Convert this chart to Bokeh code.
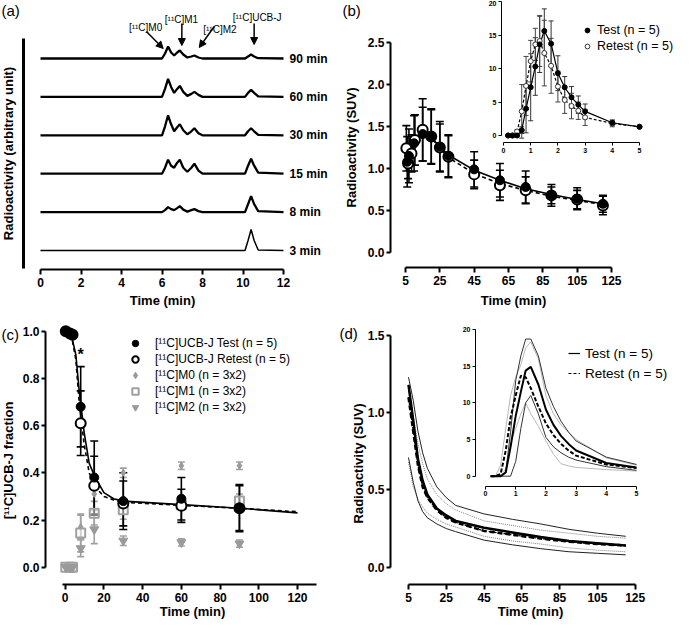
import math
from bokeh.plotting import figure
from bokeh.models import (Range1d, LinearAxis, FixedTicker, Whisker, TeeHead, ColumnDataSource,
                          Label, Arrow, NormalHead, Legend, LegendItem, NumeralTickFormatter)
from bokeh.layouts import column, row
from bokeh.embed import file_html
from bokeh.resources import INLINE
from bokeh.core.properties import value

FONT = "Liberation Sans"

# ---------------- Panel (a): radio-HPLC chromatograms ----------------
hplc_time = [0, 6.0, 6.15, 6.3, 6.45, 6.6, 6.75, 6.88, 7.05, 7.25, 7.45, 7.6, 7.8, 8.0,
             10.1, 10.25, 10.4, 10.55, 10.75, 12]
hplc_labels = ["3 min", "8 min", "15 min", "30 min", "60 min", "90 min"]
hplc_3min = [0, 0, 0, 0, 0, 0, 0, 0, 0, 0, 0, 0, 0, 0, 0, 10, 21, 10, 0.5, 0]
hplc_8min = [0, 0, 2, 5, 3, 2, 4, 6, 2.5, 0.5, 2, 3, 1, 0, 0, 8, 16, 8, 1, 0]
hplc_15min = [0, 0, 6, 14, 8, 6, 11, 14, 6, 2, 6, 10, 3, 0, 0, 8, 15, 8, 1, 0]
hplc_30min = [0, 0, 9, 20, 11, 4, 8, 11, 5, 1, 4, 7, 2, 0, 0, 4, 7, 4, 0.5, 0]
hplc_60min = [0, 0, 8, 18, 10, 4, 8, 11, 5, 1, 3, 5, 2, 0, 0, 4, 7, 4, 0.5, 0]
hplc_90min = [0, 0, 5, 12, 6, 3, 6, 8, 4, 1, 2, 3, 1, 0, 0, 2, 4, 2, 0.3, 0]
hplc_traces = [hplc_3min, hplc_8min, hplc_15min, hplc_30min, hplc_60min, hplc_90min]

# ---------------- Panel (b): plasma SUV ----------------
b_test_time = [6, 7, 10, 15, 20, 25, 30, 45, 60, 75, 90, 105, 120]
b_test = [1.08, 1.15, 1.30, 1.41, 1.38, 1.26, 1.15, 0.99, 0.86, 0.78, 0.68, 0.64, 0.58]
b_test_sd = [0.30, 0.32, 0.33, 0.32, 0.33, 0.30, 0.25, 0.21, 0.20, 0.19, 0.13, 0.13, 0.10]
b_retest_time = [5.5, 6.5, 8.5, 10.5, 15, 20, 25, 30, 45, 60, 75, 90, 105, 120]
b_retest = [1.24, 1.06, 1.18, 1.34, 1.46, 1.38, 1.25, 1.14, 0.93, 0.80, 0.74, 0.68, 0.63, 0.56]
b_retest_sd = [0.27, 0.18, 0.22, 0.30, 0.37, 0.32, 0.28, 0.25, 0.17, 0.18, 0.16, 0.10, 0.11, 0.11]
bfit_time = [5, 7.5, 10, 15, 20, 25, 30, 45, 60, 75, 90, 105, 120]
bfit_test = [1.10, 1.22, 1.32, 1.40, 1.37, 1.26, 1.16, 0.98, 0.86, 0.76, 0.69, 0.63, 0.58]
bfit_retest = [1.14, 1.26, 1.35, 1.42, 1.37, 1.24, 1.13, 0.94, 0.82, 0.74, 0.67, 0.62, 0.57]

inset_time = [0.17, 0.33, 0.5, 0.67, 0.83, 1.0, 1.17, 1.33, 1.5, 1.75, 2.0, 2.25, 2.5, 2.75, 3.0, 4.0, 5.0]
bi_test = [0, 0, 0, 0.8, 4.0, 7.2, 10.3, 13.6, 15.6, 13.7, 9.3, 7.2, 5.7, 4.6, 3.6, 1.9, 1.3]
bi_test_sd = [0, 0, 0, 0.5, 3.6, 5.0, 4.3, 4.2, 3.3, 3.4, 2.6, 1.6, 1.6, 1.3, 1.1, 0.4, 0.2]
bi_retest = [0, 0, 0.6, 3.6, 7.4, 11.1, 13.6, 14.1, 12.3, 10.4, 7.3, 5.3, 4.4, 3.7, 2.7, 1.8, 1.3]
bi_retest_sd = [0, 0, 0.3, 4.0, 4.4, 3.1, 2.4, 3.8, 4.9, 4.1, 2.3, 2.0, 1.9, 1.3, 1.2, 0.5, 0.2]

# ---------------- Panel (c): parent fraction ----------------
c_time = [0.3, 2.5, 3.8, 8, 15, 30, 60, 90]
c_test = [1.0, 0.99, 0.985, 0.68, 0.38, 0.28, 0.29, 0.25]
c_test_sd = [0, 0, 0, 0.17, 0.155, 0.12, 0.09, 0.10]
c_retest = [1.0, 0.99, 0.985, 0.61, 0.345, 0.27, 0.26, 0.25]
c_retest_sd = [0, 0, 0, 0.137, 0.125, 0.095, 0.07, 0.095]
c_m0 = [0, 0, 0, 0.17, 0.31, 0.40, 0.43, 0.43]
c_m0_sd = [0, 0, 0, 0.05, 0.07, 0.02, 0.016, 0.016]
c_m1 = [0, 0, 0, 0.145, 0.229, 0.243, 0.265, 0.28]
c_m1_sd = [0, 0, 0, 0.08, 0.05, 0.04, 0.02, 0.03]
c_m2 = [0, 0, 0, 0.08, 0.16, 0.112, 0.105, 0.10]
c_m2_sd = [0, 0, 0, 0.035, 0.06, 0.02, 0.015, 0.015]
cfit_time = [0, 3, 5.5, 7.2, 9.8, 12.4, 15.5, 20, 25, 30, 60, 90, 120]
cfit_test = [1.0, 0.99, 0.90, 0.75, 0.57, 0.44, 0.38, 0.316, 0.29, 0.28, 0.265, 0.25, 0.23]
cfit_retest = [1.0, 0.99, 0.88, 0.70, 0.52, 0.40, 0.34, 0.30, 0.285, 0.275, 0.262, 0.25, 0.235]

# ---------------- Panel (d): metabolite-corrected input ----------------
d_time = [5, 7.5, 10, 12.5, 15, 20, 25, 30, 45, 60, 75, 90, 105, 120]
d_test_mean = [1.18, 0.95, 0.70, 0.56, 0.47, 0.38, 0.335, 0.30, 0.255, 0.225, 0.195, 0.17, 0.155, 0.14]
d_test_hi = [1.23, 1.08, 0.88, 0.74, 0.64, 0.52, 0.45, 0.40, 0.345, 0.31, 0.28, 0.245, 0.22, 0.20]
d_test_lo = [0.71, 0.55, 0.43, 0.36, 0.32, 0.28, 0.25, 0.23, 0.175, 0.145, 0.12, 0.10, 0.09, 0.08]
d_retest_mean = [1.10, 0.88, 0.66, 0.52, 0.45, 0.37, 0.32, 0.29, 0.235, 0.21, 0.185, 0.165, 0.15, 0.14]
d_retest_hi = [1.15, 0.98, 0.80, 0.67, 0.57, 0.47, 0.41, 0.37, 0.30, 0.27, 0.24, 0.22, 0.20, 0.188]
d_retest_lo = [0.68, 0.52, 0.44, 0.39, 0.35, 0.31, 0.28, 0.26, 0.20, 0.17, 0.15, 0.125, 0.11, 0.10]
di_test_mean = [0, 0, 0, 0.5, 4.0, 8.2, 11.5, 14.4, 14.9, 12.5, 9.1, 7.0, 5.5, 4.4, 3.5, 1.8, 1.2]
di_test_hi = [0, 0, 0, 0.6, 6.0, 13.0, 16.4, 18.7, 18.7, 16.4, 12.0, 9.5, 7.5, 6.0, 4.8, 2.6, 1.6]
di_test_lo = [0, 0, 0, 0, 0, 2.0, 6.5, 10.0, 11.0, 8.5, 5.3, 4.0, 3.2, 2.6, 2.2, 1.3, 0.8]
di_retest_mean = [0, 0, 0.3, 3.5, 8.0, 11.0, 13.7, 13.5, 12.0, 9.5, 7.2, 5.6, 4.4, 3.5, 2.8, 1.6, 1.1]
di_retest_hi = [0, 0, 1.5, 6.5, 11.0, 13.5, 15.2, 17.5, 18.3, 16.0, 11.0, 8.5, 7.0, 6.0, 5.0, 2.5, 1.5]
di_retest_lo = [0, 0, 0, 1.0, 4.5, 6.5, 8.5, 10.0, 8.5, 6.8, 4.8, 3.0, 1.7, 1.4, 1.2, 0.9, 0.7]


# ---------------- layout helpers (pixel geometry -> ranges) ----------------
class Geo:
    """Maps reference-pixel positions to data values for one panel whose frame fills its canvas."""
    def __init__(self, w, h, ox, oy, xv, xp, pxu, yv, yp, pyu):
        self.w, self.h = w, h
        self.ox, self.oy = ox, oy
        self.xv, self.xp, self.pxu = xv, xp, pxu
        self.yv, self.yp, self.pyu = yv, yp, pyu

    def fx(self, px):
        return self.xv + (px - self.xp) / self.pxu

    def fy(self, py):
        return self.yv + (self.yp - py) / self.pyu

    def xr(self):
        return Range1d(self.fx(self.ox), self.fx(self.ox + self.w))

    def yr(self):
        return Range1d(self.fy(self.oy + self.h), self.fy(self.oy))


def base_fig(g):
    p = figure(width=g.w, height=g.h, output_backend="svg", toolbar_location=None,
               x_range=g.xr(), y_range=g.yr(), min_border=0,
               min_border_left=0, min_border_right=0, min_border_top=0, min_border_bottom=0)
    p.outline_line_color = None
    p.xgrid.visible = False
    p.ygrid.visible = False
    p.background_fill_color = "white"
    p.border_fill_color = "white"
    return p


def style_axis(ax, size="12px", lw=2, tick_out=5, standoff=3):
    ax.axis_line_width = lw
    ax.axis_line_color = "black"
    ax.major_tick_line_width = lw
    ax.major_tick_line_color = "black"
    ax.major_tick_out = tick_out
    ax.major_tick_in = 0
    ax.minor_tick_line_color = None
    ax.major_label_text_font = FONT
    ax.major_label_text_font_style = "bold"
    ax.major_label_text_font_size = size
    ax.major_label_text_color = "black"
    ax.major_label_standoff = standoff


def main_axes(p, g, xloc_px, yloc_px, xticks, xbounds, yticks, ybounds, yfmt=None, ylw=2):
    ax = p.xaxis[0]
    ay = p.yaxis[0]
    style_axis(ax)
    style_axis(ay, lw=ylw, tick_out=4, standoff=2)
    ax.fixed_location = g.fy(yloc_px)
    ay.fixed_location = g.fx(xloc_px)
    ax.ticker = FixedTicker(ticks=xticks)
    ax.bounds = xbounds
    ay.ticker = FixedTicker(ticks=yticks)
    ay.bounds = ybounds
    if yfmt:
        ay.formatter = NumeralTickFormatter(format=yfmt)


def axis_title(p, g, text, px, py, vertical=False, size="13px"):
    p.add_layout(Label(x=g.fx(px), y=g.fy(py), text=text, text_font=FONT, text_font_size=size,
                       text_font_style="bold", text_align="center", text_baseline="middle",
                       angle=math.pi / 2 if vertical else 0, text_color="black"))


def panel_label(p, g, text, px, py):
    p.add_layout(Label(x=g.fx(px), y=g.fy(py), text=text, text_font=FONT, text_font_size="15px",
                       text_baseline="top", text_align="left", text_color="black"))


def add_errors(p, x, y, sd, color, cap, width, **kw):
    src = ColumnDataSource(dict(x=x, lo=[a - b for a, b in zip(y, sd)],
                                hi=[a + b for a, b in zip(y, sd)]))
    w = Whisker(source=src, base="x", lower="lo", upper="hi", dimension="height",
                line_color=color, line_width=width,
                lower_head=TeeHead(size=cap, line_color=color, line_width=width),
                upper_head=TeeHead(size=cap, line_color=color, line_width=width), **kw)
    p.add_layout(w)


def inset_axes(p, xloc, yloc, xticks, yticks):
    ax = LinearAxis(x_range_name="ix", y_range_name="iy", fixed_location=yloc,
                    bounds=(xticks[0], xticks[-1]), ticker=FixedTicker(ticks=xticks))
    ay = LinearAxis(x_range_name="ix", y_range_name="iy", fixed_location=xloc,
                    bounds=(yticks[0], yticks[-1]), ticker=FixedTicker(ticks=yticks))
    for a in (ax, ay):
        style_axis(a, size="7px", lw=1, tick_out=3, standoff=2)
    p.add_layout(ax, "below")
    p.add_layout(ay, "left")


def style_legend(lg, size, gw, gh, standoff):
    lg.label_text_font = FONT
    lg.label_text_font_size = size
    lg.label_text_color = "black"
    lg.glyph_width = gw
    lg.glyph_height = gh
    lg.label_height = gh
    lg.label_standoff = standoff
    lg.spacing = 0
    lg.padding = 0
    lg.margin = 0
    lg.border_line_color = None
    lg.background_fill_alpha = 0


# ======================= (a) =======================
ga = Geo(337, 310, 8, 4, 0, 48, 20.25, 0, 254, 1.0)
pa = base_fig(ga)
for i, trace in enumerate(hplc_traces):
    off = i * 38.4
    pa.line(hplc_time, [v + off for v in trace], line_color="black",
            line_width=1.5 if i == 0 else 2.3)
lab_src = ColumnDataSource(dict(x=[12.3] * len(hplc_labels),
                                y=[i * 38.4 for i in range(len(hplc_labels))],
                                t=hplc_labels))
pa.text(x="x", y="y", text="t", source=lab_src, text_font=value(FONT), text_font_style="bold",
        text_font_size="12px", text_baseline="middle", text_color="black")
main_axes(pa, ga, 31, 273, [0, 2, 4, 6, 8, 10, 12], (0, 12), [], (-18, 212), ylw=3)
axis_title(pa, ga, "Time (min)", 170, 304)
axis_title(pa, ga, "Radioactivity (arbitrary unit)", 16, 157, vertical=True)

peak_names = ["[¹¹C]M0", "[¹¹C]M1", "[¹¹C]M2", "[¹¹C]UCB-J"]
peak_text_xy = [(5.19, 223), (6.96, 231), (8.86, 221), (10.7, 233)]
peak_arrows = [((5.23, 219), (6.06, 202)), ((6.98, 227), (6.98, 205)),
               ((8.58, 224), (7.84, 203)), ((10.55, 227), (10.55, 206))]
for name, (tx, ty), ((x0, y0), (x1, y1)) in zip(peak_names, peak_text_xy, peak_arrows):
    pa.add_layout(Label(x=tx, y=ty, text=name, text_font=FONT, text_font_size="10px",
                        text_align="center", text_baseline="alphabetic", text_color="black"))
    pa.add_layout(Arrow(end=NormalHead(size=7, fill_color="black", line_color="black", line_width=1),
                        x_start=x0, y_start=y0, x_end=x1, y_end=y1,
                        line_color="black", line_width=1.5))
panel_label(pa, ga, "(a)", 9, 5)

# ======================= (b) =======================
gb = Geo(338, 310, 345, 4, 5, 413, 1.7167, 0, 256, 84.0)
gbi = Geo(338, 310, 345, 4, 0, 511, 27.2, 0, 139, 6.7)
pb = base_fig(gb)
pb.extra_x_ranges = {"ix": gbi.xr()}
pb.extra_y_ranges = {"iy": gbi.yr()}
main_axes(pb, gb, 398, 271, [5, 25, 45, 65, 85, 105, 125], (5, 125),
          [0, 0.5, 1.0, 1.5, 2.0, 2.5], (0, 2.5), yfmt="0.0")
axis_title(pb, gb, "Time (min)", 521, 304)
axis_title(pb, gb, "Radioactivity (SUV)", 359, 151, vertical=True)

pb.line(bfit_time, bfit_test, line_color="black", line_width=1.6)
pb.line(bfit_time, bfit_retest, line_color="black", line_width=1.6, line_dash="4 3")
add_errors(pb, b_test_time, b_test, b_test_sd, "black", 8, 1.6)
add_errors(pb, b_retest_time, b_retest, b_retest_sd, "black", 8, 1.6)
pb.scatter(b_retest_time, b_retest, size=10, marker="circle", fill_color="white",
           line_color="black", line_width=2)
pb.scatter(b_test_time, b_test, size=9, marker="circle", fill_color="black", line_color="black")

# inset (b)
inset_axes(pb, gbi.fx(509), gbi.fy(146), [0, 1, 2, 3, 4, 5], [0, 5, 10, 15, 20])
ikw = dict(x_range_name="ix", y_range_name="iy")
pb.line(inset_time, bi_test, line_color="black", line_width=1.2, **ikw)
pb.line(inset_time, bi_retest, line_color="black", line_width=1.2, line_dash="3 2", **ikw)
add_errors(pb, inset_time, bi_test, bi_test_sd, "#333333", 5, 1, **ikw)
add_errors(pb, inset_time, bi_retest, bi_retest_sd, "#444444", 5, 1, **ikw)
r_br = pb.scatter(inset_time, bi_retest, size=5, marker="circle", fill_color="white",
                  line_color="#333333", line_width=1, **ikw)
r_bt = pb.scatter(inset_time, bi_test, size=5, marker="circle", fill_color="black",
                  line_color="black", **ikw)
leg_b = Legend(items=[LegendItem(label="Test (n = 5)", renderers=[r_bt]),
                      LegendItem(label="Retest (n = 5)", renderers=[r_br])],
               location=(244, 256))
style_legend(leg_b, "12.5px", 12, 16, 4)
pb.add_layout(leg_b)
panel_label(pb, gb, "(b)", 350, 5)

# ======================= (c) =======================
gc = Geo(337, 310, 8, 318, 0, 72.7, 1.936, 0, 574.7, 236.0)
pc = base_fig(gc)
main_axes(pc, gc, 53, 592, [0, 20, 40, 60, 80, 100, 120], (-1.5, 130),
          [0, 0.2, 0.4, 0.6, 0.8, 1.0], (0, 1.0), yfmt="0.0")
axis_title(pc, gc, "Time (min)", 200, 619)
axis_title(pc, gc, "[¹¹C]UCB-J fraction", 16, 468, vertical=True)

pc.line(cfit_time, cfit_test, line_color="black", line_width=1.6)
pc.line(cfit_time, cfit_retest, line_color="black", line_width=1.6, line_dash="4 3")
add_errors(pc, c_time, c_m0, c_m0_sd, "#a0a0a0", 7, 1.6)
add_errors(pc, c_time, c_m1, c_m1_sd, "#a0a0a0", 7, 1.6)
add_errors(pc, c_time, c_m2, c_m2_sd, "#a0a0a0", 7, 1.6)
add_errors(pc, c_time, c_test, c_test_sd, "black", 8, 1.6)
add_errors(pc, c_time, c_retest, c_retest_sd, "black", 8, 1.6)
r_m0 = pc.scatter(c_time, c_m0, size=7, marker="diamond", fill_color="#9a9a9a", line_color="#9a9a9a")
r_m1 = pc.scatter(c_time, c_m1, size=9, marker="square", fill_color="white", fill_alpha=0.5,
                  line_color="#a0a0a0", line_width=2)
r_m2 = pc.scatter(c_time, c_m2, size=9, marker="inverted_triangle", fill_color="#9a9a9a",
                  line_color="#9a9a9a")
r_cr = pc.scatter(c_time, c_retest, size=10, marker="circle", fill_color="white",
                  line_color="black", line_width=2)
r_ct = pc.scatter(c_time, c_test, size=9, marker="circle", fill_color="black", line_color="black")
pc.add_layout(Label(x=8, y=0.90, text="*", text_font=FONT, text_font_size="16px",
                    text_font_style="bold", text_align="center", text_baseline="middle",
                    text_color="black"))
leg_c = Legend(items=[LegendItem(label="[¹¹C]UCB-J Test (n = 5)", renderers=[r_ct]),
                      LegendItem(label="[¹¹C]UCB-J Retest (n = 5)", renderers=[r_cr]),
                      LegendItem(label="[¹¹C]M0 (n = 3x2)", renderers=[r_m0]),
                      LegendItem(label="[¹¹C]M1 (n = 3x2)", renderers=[r_m1]),
                      LegendItem(label="[¹¹C]M2 (n = 3x2)", renderers=[r_m2])],
               location=(125, 205))
style_legend(leg_c, "12px", 20, 16, 10)
pc.add_layout(leg_c)
panel_label(pc, gc, "(c)", 9, 333)

# ======================= (d) =======================
gd = Geo(338, 310, 345, 318, 5, 416, 1.889, 0, 574.7, 154.47)
gdi = Geo(338, 310, 345, 318, 0, 493, 30.2, 0, 483.7, 7.335)
pdd = base_fig(gd)
pdd.extra_x_ranges = {"ix": gdi.xr()}
pdd.extra_y_ranges = {"iy": gdi.yr()}
main_axes(pdd, gd, 398, 592, [5, 25, 45, 65, 85, 105, 125], (5, 125),
          [0, 0.5, 1.0, 1.5], (0, 1.5), yfmt="0.0")
axis_title(pdd, gd, "Time (min)", 538, 619)
axis_title(pdd, gd, "Radioactivity (SUV)", 366, 471, vertical=True)

pdd.line(d_time, d_retest_hi, line_color="#808080", line_width=1, line_dash="1 1")
pdd.line(d_time, d_retest_lo, line_color="#808080", line_width=1, line_dash="1 1")
pdd.line(d_time, d_test_hi, line_color="#222222", line_width=1)
pdd.line(d_time, d_test_lo, line_color="#222222", line_width=1)
pdd.line(d_time, d_test_mean, line_color="black", line_width=2.5)
pdd.line(d_time, d_retest_mean, line_color="black", line_width=2.5, line_dash="5 3")
# thin overlays used as legend keys
r_lt = pdd.line(d_time, d_test_mean, line_color="black", line_width=1.2)
r_lr = pdd.line(d_time, d_retest_mean, line_color="black", line_width=1.2, line_dash="3 2")

inset_axes(pdd, gdi.fx(483), gdi.fy(493.7), [0, 1, 2, 3, 4, 5], [0, 5, 10, 15, 20])
pdd.line(inset_time, di_retest_hi, line_color="#b8b8b8", line_width=1, **ikw)
pdd.line(inset_time, di_retest_lo, line_color="#b8b8b8", line_width=1, **ikw)
pdd.line(inset_time, di_test_hi, line_color="#333333", line_width=1, **ikw)
pdd.line(inset_time, di_test_lo, line_color="#333333", line_width=1, **ikw)
pdd.line(inset_time, di_test_mean, line_color="black", line_width=2, **ikw)
pdd.line(inset_time, di_retest_mean, line_color="black", line_width=2, line_dash="4 2", **ikw)

leg_d = Legend(items=[LegendItem(label="Test (n = 5)", renderers=[r_lt]),
                      LegendItem(label="Retest (n = 5)", renderers=[r_lr])],
               location=(231, 237))
style_legend(leg_d, "13.5px", 12, 20, 5)
pdd.add_layout(leg_d)
panel_label(pdd, gd, "(d)", 347, 332)

layout = column(row(pa, pb), row(pc, pdd))
open("out.html", "w").write(file_html(layout, INLINE))
